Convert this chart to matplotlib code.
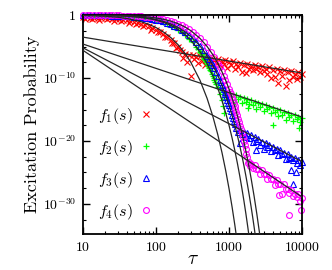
import numpy as np
import matplotlib
matplotlib.use("Agg")
import matplotlib.pyplot as plt
from matplotlib.ticker import FixedLocator, FuncFormatter, LogLocator

plt.rcParams['font.family'] = 'serif'
plt.rcParams['font.serif'] = ['cmr10']
plt.rcParams['mathtext.fontset'] = 'cm'
plt.rcParams['axes.unicode_minus'] = False

# ---- data (log10 of probability) ----
tau_f1 = [10, 11.2, 12.6, 14.1, 15.8, 17.8, 20, 22.4, 25.1, 28.2, 31.6, 35.5, 39.8, 44.7, 50.1,
          56.2, 63.1, 70.8, 79.4, 89.1, 100, 112, 126, 141, 158, 178, 200,
          10.6, 13.3, 16.8, 21.1, 26.6, 33.5, 42.2, 53.1, 66.8, 84.1, 106, 133, 168, 188, 211,
          224, 251, 282, 316, 355, 398, 447, 501, 562, 631, 708, 794, 891, 1000, 1122, 1259,
          1413, 1585, 1778, 1995, 2239, 2512, 2818, 3162, 3548, 3981, 4467, 5012, 5623, 6310,
          7079, 7943, 8913, 10000,
          237, 266, 299, 335, 376, 422, 473, 531, 596, 668, 750, 841, 944, 1059, 1189, 1334,
          1496, 1679, 1884, 2113, 2371, 2661, 2985, 3350, 3758, 4217, 4732, 5309, 5957, 6683,
          7499, 8414, 9441]
logp_f1 = [-0.35, -0.36, -0.38, -0.40, -0.42, -0.44, -0.48, -0.52, -0.57, -0.62, -0.68, -0.76,
           -0.85, -0.96, -1.08, -1.22, -1.39, -1.58, -1.80, -2.05, -2.33, -2.64, -3.02, -3.42,
           -3.89, -4.44, -5.05,
           -0.6, -0.55, -0.7, -0.65, -0.9, -0.95, -1.2, -1.4, -1.8, -2.3, -2.7, -3.5, -4.5, -5.2, -5.6,
           -5.85, -6.1, -6.4, -6.3, -6.6, -6.5, -6.7, -6.8, -6.75, -7.1, -7.0, -7.3, -7.2, -7.45,
           -7.35, -7.7, -7.55, -7.9, -7.75, -8.1, -7.95, -8.3, -8.1, -8.5, -8.3, -8.7, -8.5, -8.9,
           -8.7, -9.1, -8.9, -9.3, -9.1, -9.4,
           -6.8, -7.4, -9.6, -7.0, -7.6, -7.3, -7.9, -7.4, -8.2, -7.6, -8.0, -7.8, -8.4, -7.9,
           -8.6, -8.2, -9.0, -9.2, -8.5, -8.8, -8.6, -9.0, -8.9, -9.3, -10.0, -9.9, -10.8, -9.6,
           -11.2, -10.3, -9.8, -10.1, -9.9]

tau_f2 = [10, 11.2, 12.6, 14.1, 15.8, 17.8, 20, 22.4, 25.1, 28.2, 31.6, 35.5, 39.8, 44.7, 50.1,
          56.2, 63.1, 70.8, 79.4, 89.1, 100, 112, 126, 141, 158, 178, 200, 224, 251, 282, 316,
          355, 376, 398, 422, 447, 473, 501, 531, 562, 596, 631, 668, 708,
          410, 435, 460, 487, 516, 546, 579, 613, 649,
          750, 794, 820, 860,
          794, 891, 1000, 1122, 1259, 1413, 1585, 1778, 1995, 2239, 2512, 2818, 3162, 3548, 3981,
          4467, 5012, 5623, 6310, 7079, 7943, 8913, 10000,
          841, 944, 1059, 1189, 1334, 1496, 1679, 1820, 1884, 2113, 2371, 2661, 2985, 3350, 3758,
          4217, 4732, 4000, 5309, 5957, 6683, 7499, 8414, 9441, 9100]
logp_f2 = [-0.02, -0.02, -0.03, -0.03, -0.04, -0.05, -0.06, -0.07, -0.08, -0.10, -0.12, -0.15,
           -0.18, -0.22, -0.27, -0.32, -0.39, -0.47, -0.57, -0.69, -0.82, -0.98, -1.17, -1.39,
           -1.65, -1.96, -2.31, -2.71, -3.17, -3.72, -4.33, -5.04, -5.4, -5.83, -6.25, -6.76,
           -7.2, -7.78, -8.36, -8.96, -9.62, -10.3, -11.0, -11.5,
           -6.0, -6.5, -7.0, -7.5, -8.05, -8.65, -9.3, -9.95, -10.6,
           -12.6, -13.5, -14.5, -15.6,
           -11.9, -12.2, -12.3, -12.6, -12.7, -13.0, -13.1, -13.4, -13.5, -13.8, -13.9, -14.2,
           -14.3, -14.6, -14.7, -15.0, -15.1, -15.4, -15.5, -15.8, -15.9, -16.2, -16.3,
           -13.0, -13.4, -12.9, -13.8, -13.3, -14.0, -13.8, -14.8, -14.1, -14.3, -14.9, -14.6,
           -15.3, -14.9, -15.6, -15.4, -16.1, -17.4, -15.9, -16.6, -16.2, -16.9, -16.5, -17.0, -17.9]

tau_f3 = [10, 11.2, 12.6, 14.1, 15.8, 17.8, 20, 22.4, 25.1, 28.2, 31.6, 35.5, 39.8, 44.7, 50.1,
          56.2, 63.1, 70.8, 79.4, 89.1, 100, 112, 126, 141, 158, 178, 200, 224, 251, 282, 316,
          355, 398, 447, 501, 531, 562, 596, 631, 668, 708, 750, 794, 841, 891, 944, 1000, 1059,
          1122, 1189,
          768, 817, 866, 917, 972, 1030, 1090, 1155,
          1259, 1413, 1585, 1778, 1995, 2239, 2512, 2818, 3162, 3548, 3981, 4467, 5012, 5623,
          6310, 7079, 7943, 8913, 10000,
          1334, 1420, 1496, 1679, 1884, 2113, 2300, 2371, 2661, 2985, 3350, 3758, 4217, 4732,
          5309, 5957, 6683, 7100, 7499, 7560, 8150, 8414, 9441]
logp_f3 = [-0.01, -0.01, -0.02, -0.02, -0.03, -0.04, -0.04, -0.05, -0.07, -0.08, -0.10, -0.12,
           -0.15, -0.19, -0.23, -0.28, -0.33, -0.40, -0.49, -0.59, -0.70, -0.84, -1.01, -1.19,
           -1.40, -1.67, -1.96, -2.30, -2.68, -3.13, -3.63, -4.21, -4.86, -5.61, -6.44, -6.9,
           -7.39, -7.92, -8.48, -9.06, -9.69, -10.36, -11.05, -11.80, -12.60, -13.44, -14.34,
           -15.28, -16.29, -17.3,
           -10.65, -11.4, -12.2, -13.0, -13.9, -14.8, -15.8, -16.8,
           -17.9, -18.2, -18.5, -18.8, -19.1, -19.4, -19.7, -20.1, -20.3, -20.7, -20.9, -21.3,
           -21.5, -21.9, -22.1, -22.5, -22.7, -23.1, -23.3,
           -18.6, -20.3, -18.9, -19.4, -19.5, -20.2, -21.4, -20.0, -20.6, -21.2, -20.9, -21.6,
           -21.5, -22.3, -22.1, -22.9, -22.7, -24.6, -23.1, -26.8, -24.9, -23.5, -23.8]

tau_f4 = [10, 11.2, 12.6, 14.1, 15.8, 17.8, 20, 22.4, 25.1, 28.2, 31.6, 35.5, 39.8, 44.7, 50.1,
          56.2, 63.1, 70.8, 79.4, 89.1, 100, 112, 126, 141, 158, 178, 200, 224, 251, 282, 316,
          355, 398, 447, 501, 562, 631, 708, 750, 794, 841, 891, 944, 1000, 1059, 1122, 1189,
          1259, 1334, 1413, 1496, 1585, 1679, 1778,
          1030, 1090, 1155, 1224, 1296, 1373, 1454, 1540, 1631, 1728,
          1830, 1884, 1950, 1995, 2239, 2512, 2818, 3162, 3548, 3981, 4467, 5012, 5623, 6310,
          7079, 7943, 8913, 10000,
          2113, 2371, 2661, 2985, 3350, 3758, 4217, 4732, 4800, 5300, 5957, 6640, 6683, 7499,
          8414, 9441, 9800]
logp_f4 = [0.0, -0.01, -0.01, -0.01, -0.02, -0.02, -0.02, -0.03, -0.04, -0.05, -0.06, -0.07,
           -0.09, -0.11, -0.13, -0.16, -0.20, -0.25, -0.30, -0.37, -0.45, -0.54, -0.66, -0.79,
           -0.94, -1.14, -1.36, -1.62, -1.91, -2.27, -2.67, -3.14, -3.67, -4.29, -4.99, -5.79,
           -6.71, -7.75, -8.3, -8.93, -9.6, -10.26, -11.0, -11.77, -12.6, -13.48, -14.42,
           -15.40, -16.46, -17.57, -18.75, -20.01, -21.34, -22.6,
           -12.2, -13.0, -13.95, -14.9, -15.9, -17.0, -18.15, -19.4, -20.7, -22.0,
           -23.5, -23.3, -24.0, -23.6, -23.8, -24.4, -24.6, -25.2, -25.4, -26.0, -26.2, -26.8,
           -26.9, -27.6, -27.8, -28.4, -28.5, -29.0,
           -24.3, -24.5, -25.2, -25.3, -26.1, -26.0, -27.0, -26.8, -28.6, -28.4, -27.6, -31.7,
           -28.3, -28.7, -28.9, -29.6, -31.0]

# fitted curves (black)
fit_tau_f1 = [10, 20, 30, 40, 60, 80, 100, 130, 160, 200, 250, 300, 400, 500, 600, 700, 800,
              900, 1000, 1100, 1200, 1300]
fit_f1 = [-0.05, -0.18, -0.34, -0.54, -0.98, -1.47, -1.98, -2.78, -3.59, -4.70, -6.10, -7.52,
          -10.37, -13.23, -16.11, -18.98, -21.86, -24.74, -27.63, -30.51, -33.40, -36.3]
fit_tau = [10, 20, 30, 40, 60, 80, 100, 130, 160, 200, 250, 300, 400, 500, 600, 700, 800, 900,
           1000, 1100, 1200, 1300, 1400, 1500, 1600, 1700, 1800, 1900]
fit_f2 = [-0.012, -0.046, -0.098, -0.165, -0.34, -0.548, -0.79, -1.195, -1.64, -2.27, -3.12,
          -4.00, -5.83, -7.72, -9.65, -11.61, -13.58, -15.56, -17.55, -19.54, -21.54, -23.55,
          -25.55, -27.57, -29.58, -31.59, -33.61, -35.6]
fit_tau_f3 = fit_tau + [2000, 2100, 2200, 2300]
fit_f3 = [-0.012, -0.043, -0.091, -0.152, -0.31, -0.494, -0.70, -1.053, -1.43, -1.96, -2.66,
          -3.39, -4.89, -6.43, -7.99, -9.56, -11.15, -12.74, -14.34, -15.94, -17.54, -19.15,
          -20.75, -22.36, -23.97, -25.58, -27.20, -28.81, -30.42, -32.04, -33.65, -35.27]
fit_tau_f4 = fit_tau + [2000, 2200, 2400, 2600, 2800]
fit_f4 = [-0.006, -0.024, -0.051, -0.088, -0.18, -0.304, -0.45, -0.69, -0.96, -1.36, -1.90,
          -2.48, -3.70, -4.98, -6.30, -7.64, -9.01, -10.39, -11.77, -13.17, -14.57, -15.98,
          -17.39, -18.80, -20.22, -21.64, -23.06, -24.49, -25.91, -28.76, -31.62, -34.48, -37.35]

# power-law tails (black straight lines)
tail_tau = [10, 10000]
tail_f1 = [-3.5, -9.2]
tail_f2 = [-4.6, -16.2]
tail_f3 = [-5.2, -23.3]
tail_f4 = [-5.6, -28.9]

labels = [r'$f_1(s)$', r'$f_2(s)$', r'$f_3(s)$', r'$f_4(s)$']

fig = plt.figure(figsize=(3.32, 2.70), dpi=100)
ax = fig.add_axes([0.25, 0.133, 0.66, 0.811])

def p(v):
    return 10.0 ** np.array(v)

ax.plot(tau_f1, p(logp_f1), ls='none', marker='x', ms=3.8, mew=0.8, color='#ff0000',
        clip_on=False, label=labels[0])
ax.plot(tau_f2, p(logp_f2), ls='none', marker='+', ms=5, mew=0.9, color='#00ff00',
        clip_on=False, label=labels[1])
ax.plot(tau_f3, p(logp_f3), ls='none', marker='^', ms=3.8, mew=0.8, mfc='none', color='#0000ff',
        clip_on=False, label=labels[2])
ax.plot(tau_f4, p(logp_f4), ls='none', marker='o', ms=4.2, mew=0.8, mfc='none', color='#ff00ff',
        clip_on=False, label=labels[3])

for t, v in [(fit_tau_f1, fit_f1), (fit_tau, fit_f2), (fit_tau_f3, fit_f3), (fit_tau_f4, fit_f4)]:
    ax.plot(t, p(v), color='0.15', lw=0.9, zorder=5)
for v in [tail_f1, tail_f2, tail_f3, tail_f4]:
    ax.plot(tail_tau, p(v), color='0.15', lw=0.9, zorder=5)

ax.set_xscale('log')
ax.set_yscale('log')
ax.set_xlim(10, 10000)
ax.set_ylim(10 ** -34.8, 1)

ax.xaxis.set_major_locator(FixedLocator([10, 100, 1000, 10000]))
ax.xaxis.set_minor_locator(LogLocator(base=10, subs=np.arange(2, 10)))
ax.xaxis.set_major_formatter(FuncFormatter(lambda v, pos: r'$%d$' % round(v)))
ax.yaxis.set_major_locator(FixedLocator([1, 1e-10, 1e-20, 1e-30]))
ax.yaxis.set_minor_locator(FixedLocator(10.0 ** -np.arange(2.5, 35, 2.5)))
ax.yaxis.set_major_formatter(FuncFormatter(
    lambda v, pos: r'$1$' if v == 1 else r'$10^{%d}$' % round(np.log10(v))))
ax.yaxis.set_minor_formatter(FuncFormatter(lambda v, pos: ''))

ax.tick_params(which='both', direction='in', top=True, right=True, labelsize=10, pad=5)
ax.tick_params(which='major', length=5, width=1)
ax.tick_params(which='minor', length=2.5, width=0.8)
for s in ax.spines.values():
    s.set_linewidth(1.3)

ax.set_xlabel(r'$\tau$', fontsize=14, labelpad=-3)
ax.set_ylabel('Excitation Probability', fontsize=13, labelpad=2)

ax.legend(loc='center left', bbox_to_anchor=(0.07, 0.32), frameon=False, markerfirst=False,
          fontsize=11.5, handlelength=0.8, handletextpad=0.4, labelspacing=0.75,
          borderaxespad=0, borderpad=0)

fig.savefig('out.png', dpi=100)
